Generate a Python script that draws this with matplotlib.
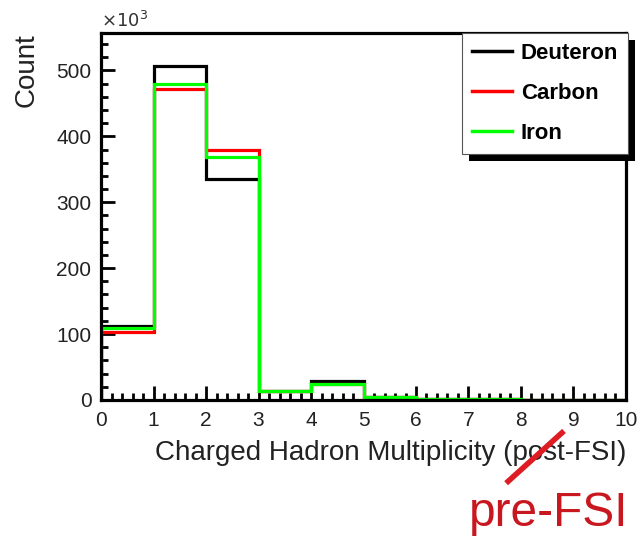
import matplotlib
matplotlib.use("Agg")
import matplotlib.pyplot as plt
from matplotlib.ticker import MultipleLocator
from matplotlib.lines import Line2D
from matplotlib.patches import Rectangle
from matplotlib.transforms import IdentityTransform
import numpy as np

plt.rcParams['font.family'] = ['Liberation Sans', 'DejaVu Sans']

bin_edges = [0, 1, 2, 3, 4, 5, 6, 7, 8, 9, 10]
deuteron = [112, 507, 336, 14, 29, 4, 2, 1, 0.5, 0.3]
carbon = [103, 472, 380, 13, 24, 4, 2, 1, 0.5, 0.3]
iron = [109, 480, 369, 14, 24, 4, 2, 1, 0.5, 0.3]
series_names = ["Deuteron", "Carbon", "Iron"]
series_colors = ["black", "#ff0000", "#00ff00"]

fig = plt.figure(figsize=(6.4, 5.39), dpi=100)
ax = fig.add_axes([0.158, 0.258, 0.820, 0.681])

for vals, col in zip([deuteron, carbon, iron], series_colors):
    v = np.array(vals)
    xs = np.repeat(bin_edges, 2)[1:-1]
    ys = np.repeat(v, 2)
    xs = np.concatenate([[bin_edges[0]], xs, [bin_edges[-1]]])
    ys = np.concatenate([[0], ys, [0]])
    ax.plot(xs, ys, color=col, lw=2.3, solid_joinstyle='miter')

ax.set_xlim(0, 10)
ax.set_ylim(0, 557)
ax.xaxis.set_major_locator(MultipleLocator(1))
ax.xaxis.set_minor_locator(MultipleLocator(0.2))
ax.yaxis.set_major_locator(MultipleLocator(100))
ax.yaxis.set_minor_locator(MultipleLocator(20))
ax.tick_params(which='both', direction='in', top=False, right=False, labelsize=15, width=2,
               labelcolor='#222222')
ax.tick_params(which='major', length=10)
ax.tick_params(axis='x', which='major', pad=8)
ax.tick_params(axis='y', which='major', pad=7)
ax.tick_params(which='minor', length=5)
for s in ax.spines.values():
    s.set_linewidth(2.3)

ax.text(0.0, 1.005, r"$\times10^{3}$", transform=ax.transAxes, fontsize=13, ha='left', va='bottom',
        color='#333333')
ax.set_ylabel("Count", fontsize=20, loc='top', labelpad=12, color='#222222')
ax.set_xlabel("Charged Hadron Multiplicity (post-FSI)", fontsize=20, loc='right', labelpad=7,
              color='#222222')

handles = [Line2D([0], [0], color=c, lw=2.5) for c in series_colors]
leg = ax.legend(handles, series_names, loc='upper right', bbox_to_anchor=(1.004, 1.0),
                prop={'weight': 'bold', 'size': 16}, frameon=True, fancybox=False,
                handlelength=1.8, handletextpad=0.4, borderpad=0.45, borderaxespad=0,
                labelspacing=0.85, edgecolor='#555555', framealpha=1)
leg.get_frame().set_linewidth(0.8)
leg.set_zorder(6)

fig.canvas.draw()
bb = leg.get_window_extent()
ax.add_patch(Rectangle((bb.x0 + 7, bb.y0 - 7), bb.width, bb.height, facecolor='black',
                       edgecolor='none', transform=IdentityTransform(), clip_on=False, zorder=5.5))

# red strike-out and annotation
fig.add_artist(Line2D([0.794, 0.878], [0.107, 0.197], color='#dd1c24', lw=4, transform=fig.transFigure))
fig.text(0.982, 0.024, "pre-FSI", color='#c8171e', fontsize=34.5, ha='right', va='baseline')

fig.savefig("out.png", dpi=100)
